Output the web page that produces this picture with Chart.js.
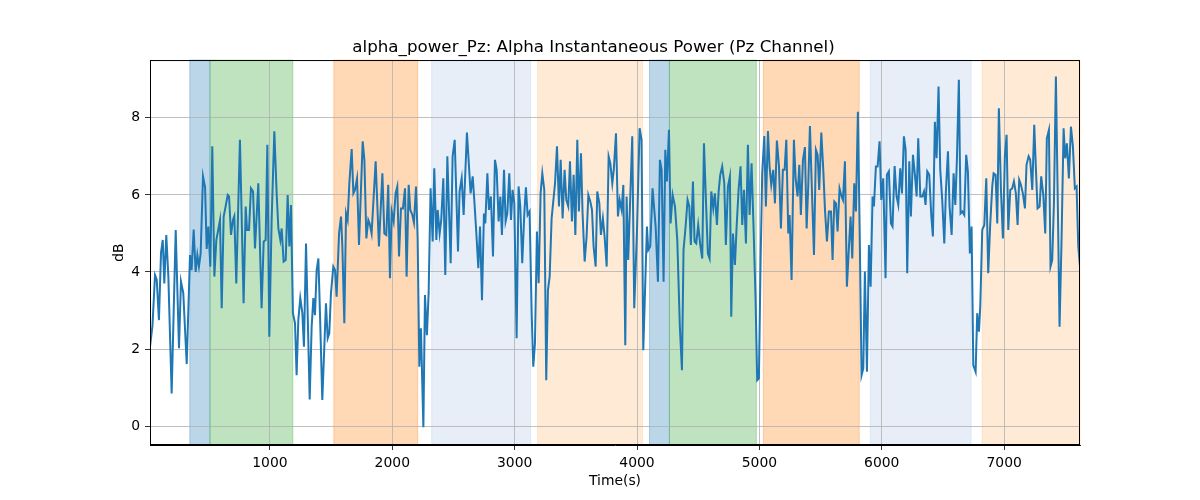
<!DOCTYPE html>
<html>
<head>
<meta charset="utf-8">
<script src="https://cdn.jsdelivr.net/npm/chart.js@4/dist/chart.umd.min.js"></script>
<style>
  body { margin: 0; background: #fff; }
  #wrap { width: 1200px; height: 500px; }
</style>
</head>
<body>
<div id="wrap"><canvas id="powerChart" width="1200" height="500"></canvas></div>
<script>
// time stamps (s) and alpha power (dB)
var times = [
  20, 40, 61, 75, 93, 110, 124, 137, 153, 170, 197, 230, 257, 273, 292, 320, 347, 360, 377, 393,
  407, 420, 434, 453, 470, 483, 497, 513, 529, 546, 562, 592, 606, 622, 638, 655, 666, 682, 698, 709,
  725, 755, 785, 802, 813, 829, 845, 862, 878, 905, 932, 949, 965, 979, 995,
  1014, 1036, 1055, 1069, 1085, 1096, 1112, 1129, 1145, 1159, 1172, 1188, 1205, 1218, 1232, 1248, 1265, 1278, 1295, 1325,
  1341, 1355, 1368, 1382, 1396, 1409, 1428, 1458, 1472, 1485, 1499, 1518, 1532, 1545, 1565, 1581, 1592, 1608, 1622, 1635,
  1649, 1668, 1682, 1695, 1712, 1728, 1758, 1772, 1788, 1804, 1815, 1831, 1864, 1891, 1919, 1935, 1951, 1967, 1981,
  1995, 2011, 2027, 2041, 2055, 2071, 2087, 2104, 2117, 2134, 2147, 2164, 2177, 2194, 2207, 2221, 2234, 2254, 2267, 2283,
  2297, 2313, 2330, 2343, 2360, 2371, 2387, 2400, 2417, 2433, 2450, 2477, 2493, 2510, 2537, 2550, 2567, 2583, 2610, 2640,
  2657, 2670, 2687, 2703, 2717, 2733, 2749, 2760, 2777, 2790, 2806, 2823, 2839, 2853, 2869, 2883, 2896, 2913, 2926, 2940, 2956,
  2970, 2983, 2997, 3016, 3032, 3046, 3062, 3079, 3092, 3106, 3122, 3139, 3152, 3166, 3182, 3196, 3212, 3226, 3242, 3258,
  3272, 3286, 3302, 3330, 3346, 3362, 3376, 3392, 3408, 3422, 3438, 3452, 3468, 3482, 3496, 3512, 3525, 3542, 3555, 3572,
  3588, 3602, 3618, 3632, 3645, 3662, 3675, 3692, 3705, 3721, 3735, 3752, 3768, 3782, 3798, 3811, 3828, 3844, 3858, 3874, 3888, 3904,
  3915, 3928, 3961, 3977, 3999, 4021, 4037, 4051, 4081, 4092, 4108, 4127, 4152, 4171, 4187, 4201, 4217, 4231, 4244, 4261,
  4274, 4291, 4310, 4329, 4350, 4367, 4380, 4397, 4413, 4427, 4440, 4457, 4470, 4484, 4500, 4517, 4533, 4547, 4563, 4579,
  4593, 4607, 4623, 4636, 4653, 4667, 4680, 4696, 4713, 4726, 4743, 4759, 4770, 4784, 4800, 4814, 4830, 4846, 4860, 4874, 4890, 4906,
  4920, 4936, 4952, 4969, 4982, 4996, 5010, 5023, 5040, 5053, 5070, 5083, 5097, 5113, 5127, 5143, 5160, 5176, 5192, 5206,
  5220, 5236, 5247, 5263, 5282, 5296, 5312, 5326, 5339, 5356, 5372, 5386, 5399, 5413, 5429, 5446, 5462, 5476, 5489, 5506,
  5522, 5536, 5552, 5568, 5585, 5598, 5612, 5626, 5639, 5655, 5672, 5683, 5699, 5715, 5732, 5745, 5759, 5775, 5789, 5805,
  5819, 5835, 5849, 5862, 5879, 5895,
  5909, 5925, 5936, 5952, 5966, 5982, 5996, 6012, 6031, 6042, 6058, 6075, 6088, 6105, 6121, 6135, 6151, 6165, 6181, 6195,
  6208, 6225, 6238, 6255, 6271, 6285, 6298, 6315, 6331, 6345, 6358, 6372, 6388, 6405, 6418, 6434, 6448, 6464, 6478, 6494,
  6511, 6524, 6541, 6554, 6571, 6587, 6601, 6614, 6630, 6644, 6658, 6674, 6690, 6704, 6720, 6734, 6748, 6767, 6780, 6794,
  6805, 6821, 6838, 6854, 6870,
  6886, 6903, 6914, 6930, 6944, 6957, 6974, 6990, 7006, 7020, 7034, 7050, 7066, 7080, 7096, 7110, 7123, 7137, 7153, 7170,
  7183, 7200, 7213, 7230, 7246, 7260, 7273, 7290, 7303, 7320, 7336, 7349, 7366, 7379, 7393, 7407, 7423, 7439, 7453, 7469,
  7486, 7499, 7513, 7529, 7546, 7562, 7578, 7592, 7606, 7619
];
var power = [
  2.06, 2.6, 3.92, 3.8, 2.75, 4.5, 4.83, 3.7, 4.96, 3.88, 0.85, 5.09, 2.02, 3.75, 3.45, 1.61, 4.44, 4.05, 5.1, 4.0,
  4.44, 4.14, 4.48, 6.48, 6.2, 4.6, 5.18, 4.14, 7.26, 3.88, 4.83, 5.35, 3.06, 5.44, 5.7, 6.0, 5.96, 4.96, 5.35, 5.45,
  3.7, 7.43, 3.19, 5.7, 5.09, 5.09, 6.17, 6.09, 4.61, 6.3, 3.06, 4.79, 4.83, 7.3, 2.32,
  5.35, 7.65, 6.04, 5.13, 4.83, 5.13, 4.27, 4.31, 6.0, 4.66, 5.74, 2.93, 2.67, 1.32, 2.75, 3.32, 2.93, 2.06, 4.74, 0.69,
  2.58, 3.32, 2.88, 4.05, 4.35, 2.93, 0.68, 3.19, 2.28, 2.41, 3.45, 4.14, 4.05, 3.36, 5.0, 5.44, 4.66, 2.67, 5.52, 5.35,
  6.3, 7.19, 6.04, 6.13, 6.43, 4.7, 7.39, 6.91, 4.87, 5.35, 5.26, 5.0, 6.87, 4.66, 6.56, 5.0, 4.96, 6.26, 3.84,
  5.57, 5.31, 6.04, 6.22, 4.4, 5.65, 5.65, 6.17, 3.88, 6.26, 5.61, 5.48, 5.28, 6.22, 4.92, 1.54, 2.54, -0.03, 3.4, 2.36,
  3.45, 6.17, 4.79, 6.69, 4.83, 5.61, 5.0, 5.35, 6.43, 3.92, 7.0, 4.23, 7.0, 7.43, 4.53, 6.09, 6.43, 5.48, 7.62, 6.04,
  6.48, 5.87, 5.0, 4.1, 5.18, 3.27, 5.52, 5.26, 6.56, 5.61, 5.96, 4.4, 6.91, 6.65, 5.31, 5.96, 4.96, 6.65, 5.31, 5.52, 6.56,
  5.35, 6.13, 5.78, 2.28, 6.22, 5.7, 4.23, 5.52, 6.2, 5.48, 5.57, 2.93, 1.54, 2.15, 5.05, 3.71, 6.04, 6.56, 6.13, 1.19,
  3.53, 3.88, 5.39, 6.3, 7.26, 5.7, 6.91, 5.39, 6.65, 5.87, 5.7, 6.87, 5.31, 6.52, 4.96, 7.43, 5.57, 7.08, 5.52, 4.27,
  4.92, 6.0, 5.83, 5.61, 4.66, 4.14, 6.09, 5.78, 4.96, 5.39, 4.92, 4.14, 7.0, 6.82, 6.3, 6.69, 7.6, 5.44, 5.87, 5.61, 6.26, 2.1,
  5.96, 4.31, 7.52, 3.06, 5.0, 7.73, 7.43, 1.97, 5.18, 4.57, 4.66, 6.17, 5.18, 3.75, 6.91, 6.65, 3.75, 7.17, 6.35, 7.69,
  5.26, 6.0, 5.7, 4.83, 2.58, 1.45, 4.57, 5.18, 5.87, 5.7, 4.7, 6.35, 4.79, 4.74, 5.22, 4.7, 4.35, 7.34, 5.87, 4.48,
  4.35, 6.09, 5.65, 6.04, 5.22, 6.09, 6.52, 6.74, 6.3, 4.7, 6.22, 6.48, 2.84, 5.0, 4.18, 5.18, 6.13, 6.74, 5.22, 6.13, 4.74, 7.3,
  5.48, 6.82, 5.18, 3.27, 1.19, 1.24, 4.31, 6.56, 7.53, 5.7, 7.66, 6.74, 6.26, 6.65, 5.78, 7.41, 6.74, 5.13, 6.65, 6.65,
  7.43, 5.0, 5.48, 3.79, 7.43, 6.43, 5.96, 6.78, 5.48, 6.91, 7.24, 5.13, 6.22, 7.79, 6.13, 4.44, 7.17, 7.04, 6.13, 7.62,
  6.65, 5.61, 4.79, 5.57, 5.57, 4.31, 5.83, 5.78, 5.05, 6.17, 5.96, 5.87, 6.87, 3.62, 4.66, 5.44, 4.35, 6.3, 5.57, 8.16,
  5.18, 1.32, 1.5, 4.01, 1.41, 4.7,
  3.62, 5.96, 5.7, 6.74, 6.74, 7.39, 5.87, 6.43, 3.84, 6.52, 6.61, 5.26, 5.18, 6.75, 5.96, 5.74, 6.69, 6.04, 7.52, 7.17,
  3.97, 6.87, 5.44, 7.04, 6.52, 5.96, 7.47, 5.96, 5.96, 6.09, 5.74, 6.61, 6.52, 5.44, 4.92, 7.9, 6.95, 8.81, 6.65, 5.87,
  4.74, 6.09, 7.13, 5.7, 4.96, 6.56, 5.74, 6.91, 8.99, 5.52, 5.57, 5.48, 7.04, 6.61, 4.48, 5.18, 1.58, 1.41, 2.93, 2.45,
  3.1, 5.09, 5.22, 6.43, 3.97,
  5.22, 6.22, 6.56, 6.52, 5.26, 8.25, 6.13, 4.87, 7.0, 7.56, 5.09, 6.13, 6.17, 6.35, 6.04, 5.22, 6.39, 6.26, 6.04, 5.65,
  6.78, 7.0, 6.91, 6.13, 7.82, 6.65, 5.65, 5.7, 6.48, 6.0, 5.0, 7.47, 7.69, 4.14, 4.31, 5.78, 9.07, 5.7, 2.58, 4.79,
  7.73, 6.95, 7.34, 6.43, 7.77, 7.26, 6.17, 6.22, 4.66, 4.18
];

// shaded task blocks (s)
var blockStart = [345, 510, 1522, 2322, 3187, 4102, 4265, 5032, 5906, 6820];
var blockEnd   = [510, 1187, 2208, 3130, 4044, 4265, 4975, 5816, 6730, 7620];
var blockKind  = ['rest', 'task', 'stim', 'light', 'pale', 'rest', 'task', 'stim', 'light', 'pale'];

var xTicks = [1000, 2000, 3000, 4000, 5000, 6000, 7000];
var yTicks = [0, 2, 4, 6, 8];

var kindColors = {
  rest:  'rgba(31, 119, 180, 0.3)',
  task:  'rgba(44, 160, 44, 0.3)',
  stim:  'rgba(255, 127, 14, 0.3)',
  light: 'rgba(174, 199, 232, 0.3)',
  pale:  'rgba(255, 187, 120, 0.3)'
};

var points = times.map(function (t, i) { return { x: t, y: power[i] }; });

var spanPlugin = {
  id: 'spans',
  beforeDraw: function (chart) {
    var ctx = chart.ctx, a = chart.chartArea, xs = chart.scales.x;
    ctx.save();
    for (var i = 0; i < blockStart.length; i++) {
      var x0 = xs.getPixelForValue(blockStart[i]);
      var x1 = Math.min(xs.getPixelForValue(blockEnd[i]), a.right);
      ctx.fillStyle = kindColors[blockKind[i]];
      ctx.fillRect(x0, a.top, x1 - x0, a.bottom - a.top);
      ctx.strokeStyle = kindColors[blockKind[i]];
      ctx.lineWidth = 1;
      ctx.strokeRect(x0, a.top, x1 - x0, a.bottom - a.top);
    }
    ctx.restore();
  },
  afterDatasetsDraw: function (chart) {
    var ctx = chart.ctx, a = chart.chartArea;
    ctx.save();
    ctx.strokeStyle = '#000';
    ctx.lineWidth = 1;
    ctx.strokeRect(a.left + 0.5, a.top + 0.5, a.right - a.left - 1, a.bottom - a.top - 1);
    ctx.restore();
  }
};

Chart.defaults.font.family = "'DejaVu Sans', sans-serif";
Chart.defaults.color = '#000';

var ctxPower = document.getElementById('powerChart').getContext('2d');
var powerChart = new Chart(ctxPower, {
  type: 'scatter',
  data: {
    datasets: [{
      label: 'alpha_power_Pz',
      data: points,
      showLine: true,
      borderColor: '#1f77b4',
      borderWidth: 2,
      pointRadius: 0,
      tension: 0
    }]
  },
  options: {
    responsive: false,
    animation: false,
    devicePixelRatio: 1,
    layout: { padding: { left: 107, right: 120, top: 38, bottom: 6 } },
    plugins: {
      legend: { display: false },
      tooltip: { enabled: false },
      title: {
        display: true,
        text: 'alpha_power_Pz: Alpha Instantaneous Power (Pz Channel)',
        font: { size: 16.7, weight: 'normal' },
        color: '#000',
        padding: { top: 0, bottom: 2 }
      }
    },
    scales: {
      x: {
        type: 'linear',
        min: 20,
        max: 7620,
        afterBuildTicks: function (s) { s.ticks = xTicks.map(function (v) { return { value: v }; }); },
        afterFit: function (s) { s.height = 49; },
        ticks: {
          font: { size: 13.9 }, padding: 5, maxRotation: 0, autoSkip: false,
          callback: function (v) { return String(v); }
        },
        grid: { color: '#b0b0b0', lineWidth: 0.8, tickLength: 5, tickColor: '#000' },
        border: { color: '#000', width: 1 },
        title: { display: true, text: 'Time(s)', font: { size: 13.9 }, padding: { top: 2, bottom: 4 } }
      },
      y: {
        min: -0.49,
        max: 9.5,
        afterBuildTicks: function (s) { s.ticks = yTicks.map(function (v) { return { value: v }; }); },
        afterFit: function (s) { s.width = 43; },
        ticks: {
          font: { size: 13.9 }, padding: 5, autoSkip: false,
          callback: function (v) { return String(v); }
        },
        grid: { color: '#b0b0b0', lineWidth: 0.8, tickLength: 5, tickColor: '#000' },
        border: { color: '#000', width: 1 },
        title: { display: true, text: 'dB', font: { size: 13.9 }, padding: { top: 4, bottom: 4 } }
      }
    }
  },
  plugins: [spanPlugin]
});
</script>
</body>
</html>
